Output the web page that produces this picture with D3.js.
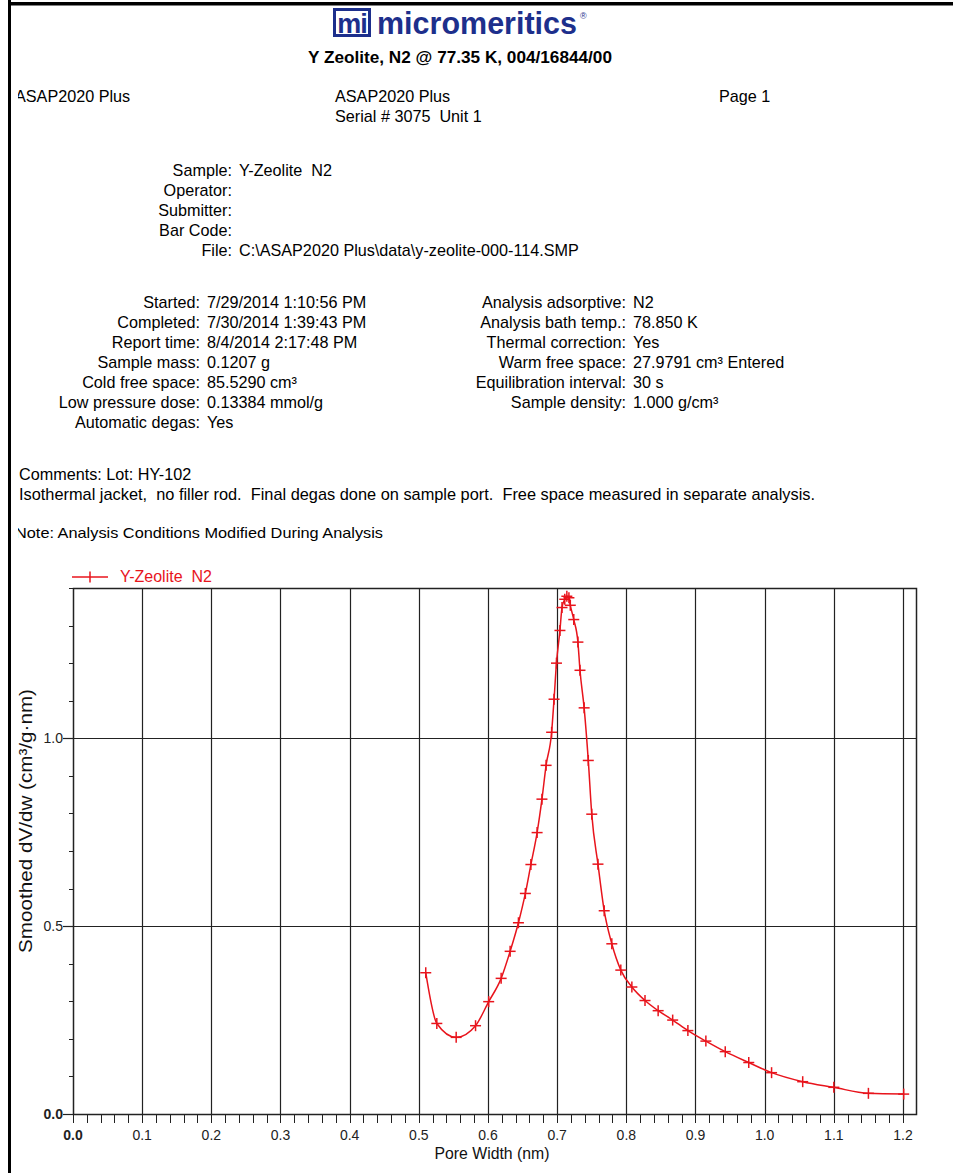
<!DOCTYPE html>
<html>
<head>
<meta charset="utf-8">
<script src="https://cdn.jsdelivr.net/npm/d3@7"></script>
<style>
  html, body { margin: 0; padding: 0; background: #fff; }
  svg { display: block; }
  text { font-family: "Liberation Sans", Arial, sans-serif; white-space: pre; }
</style>
</head>
<body>
<svg id="page" width="953" height="1173"></svg>
<script>
// ---------------- data ----------------
const poreWidth = [0.510,0.526,0.554,0.582,0.601,0.619,0.632,0.644,0.654,0.662,0.671,0.678,0.684,0.692,0.6955,0.699,0.704,0.707,0.711,0.714,0.717,0.719,0.724,0.730,0.733,0.739,0.745,0.750,0.759,0.768,0.779,0.792,0.808,0.827,0.846,0.867,0.889,0.915,0.943,0.977,1.010,1.055,1.100,1.150,1.201];
const dvdw = [0.376,0.241,0.204,0.235,0.299,0.361,0.433,0.509,0.587,0.664,0.749,0.838,0.928,1.016,1.104,1.200,1.287,1.348,1.370,1.378,1.374,1.354,1.316,1.256,1.181,1.081,0.941,0.798,0.665,0.541,0.453,0.383,0.338,0.302,0.275,0.250,0.222,0.194,0.166,0.137,0.110,0.086,0.071,0.055,0.053];
const xTickLabels = ["0.0","0.1","0.2","0.3","0.4","0.5","0.6","0.7","0.8","0.9","1.0","1.1","1.2"];
const yTickLabels = ["0.0","0.5","1.0"];
const seriesName = "Y-Zeolite  N2";
const headerLeft = ["ASAP2020 Plus"];
const headerMid = ["ASAP2020 Plus", "Serial # 3075  Unit 1"];
const headerRight = ["Page 1"];
const sampleLabels = ["Sample:", "Operator:", "Submitter:", "Bar Code:", "File:"];
const sampleValues = ["Y-Zeolite  N2", "", "", "", "C:\\ASAP2020 Plus\\data\\y-zeolite-000-114.SMP"];
const condLabelsL = ["Started:", "Completed:", "Report time:", "Sample mass:", "Cold free space:", "Low pressure dose:", "Automatic degas:"];
const condValuesL = ["7/29/2014 1:10:56 PM", "7/30/2014 1:39:43 PM", "8/4/2014 2:17:48 PM", "0.1207 g", "85.5290 cm³", "0.13384 mmol/g", "Yes"];
const condLabelsR = ["Analysis adsorptive:", "Analysis bath temp.:", "Thermal correction:", "Warm free space:", "Equilibration interval:", "Sample density:"];
const condValuesR = ["N2", "78.850 K", "Yes", "27.9791 cm³ Entered", "30 s", "1.000 g/cm³"];
const comments = ["Comments: Lot: HY-102", "Isothermal jacket,  no filler rod.  Final degas done on sample port.  Free space measured in separate analysis."];
const noteText = "Note: Analysis Conditions Modified During Analysis";
const titleText = "Y Zeolite, N2 @ 77.35 K, 004/16844/00";
const xTitle = "Pore Width (nm)";
const yTitle = "Smoothed dV/dw (cm³/g·nm)";

(function () {
// ---------------- page ----------------
const svg = d3.select("#page");
const red = "#e8141c";
const blue = "#1d2f8c";

// logo
const logo = svg.append("g");
logo.append("rect").attr("x", 334.5).attr("y", 9.5).attr("width", 35).attr("height", 26)
  .attr("fill", "#fff").attr("stroke", blue).attr("stroke-width", 3);
logo.append("text").attr("x", 352).attr("y", 33).attr("text-anchor", "middle")
  .attr("font-size", 27).attr("font-weight", "bold").attr("fill", blue).attr("letter-spacing", -1).text("mi");
logo.append("text").attr("x", 377).attr("y", 34).attr("font-size", 31).attr("font-weight", "bold")
  .attr("fill", blue).attr("textLength", 200).attr("lengthAdjust", "spacingAndGlyphs").text("micromeritics");
logo.append("text").attr("x", 580).attr("y", 19).attr("font-size", 9).attr("fill", blue).text("®");

svg.append("text").attr("x", 460).attr("y", 63).attr("text-anchor", "middle")
  .attr("font-size", 17).attr("font-weight", "bold").attr("fill", "#000")
  .attr("textLength", 304).attr("lengthAdjust", "spacingAndGlyphs").text(titleText);

const fs = 16.2;
function txt(x, y, s, anchor, opts) {
  const t = svg.append("text").attr("x", x).attr("y", y).attr("font-size", fs)
    .attr("fill", "#000").attr("text-anchor", anchor || "start").text(s);
  if (opts) Object.entries(opts).forEach(([k, v]) => t.attr(k, v));
  return t;
}

headerLeft.forEach((s, i) => txt(15, 102 + i * 19.5, s));
headerMid.forEach((s, i) => txt(335, 102 + i * 19.5, s));
headerRight.forEach((s, i) => txt(719, 102 + i * 19.5, s));

sampleLabels.forEach((s, i) => txt(232, 176 + i * 20, s, "end"));
sampleValues.forEach((s, i) => txt(239, 176 + i * 20, s));

condLabelsL.forEach((s, i) => txt(200, 308 + i * 20, s, "end"));
condValuesL.forEach((s, i) => txt(207, 308 + i * 20, s));
condLabelsR.forEach((s, i) => txt(626, 308 + i * 20, s, "end"));
condValuesR.forEach((s, i) => txt(633, 308 + i * 20, s));

txt(19, 480, comments[0]);
txt(19, 499.5, comments[1], "start", {"textLength": 796, "lengthAdjust": "spacingAndGlyphs"});
txt(15, 538, noteText, "start", {"textLength": 368, "lengthAdjust": "spacingAndGlyphs", "font-size": 15});

// cover text that runs under the page frame, then draw frame lines
svg.append("rect").attr("x", 0).attr("y", 0).attr("width", 18).attr("height", 1173).attr("fill", "#fff");
svg.append("rect").attr("x", 8).attr("y", 0).attr("width", 3).attr("height", 1173).attr("fill", "#000");
svg.append("rect").attr("x", 8).attr("y", 2).attr("width", 945).attr("height", 3.5).attr("fill", "#000");

// ---------------- chart ----------------
const pL = 73, pR = 916, pT = 588, pB = 1114;
const x = d3.scaleLinear().domain([0, 1.2188]).range([pL, pR]);
const y = d3.scaleLinear().domain([0, 1.4]).range([pB, pT]);
const gridColor = "#222";

const g = svg.append("g");
const xMajors = xTickLabels.map(Number);
g.selectAll(".vg").data(xMajors.filter(v => v > 0)).enter().append("line")
  .attr("x1", d => Math.round(x(d)) + 0.5).attr("x2", d => Math.round(x(d)) + 0.5)
  .attr("y1", pT).attr("y2", pB).attr("stroke", gridColor).attr("stroke-width", 1.2);
const yMajors = yTickLabels.map(Number);
g.selectAll(".hg").data(yMajors.filter(v => v > 0)).enter().append("line")
  .attr("x1", pL).attr("x2", pR)
  .attr("y1", d => Math.round(y(d)) + 0.5).attr("y2", d => Math.round(y(d)) + 0.5)
  .attr("stroke", gridColor).attr("stroke-width", 1.2);
g.append("rect").attr("x", pL + 0.5).attr("y", pT + 0.5).attr("width", pR - pL).attr("height", pB - pT)
  .attr("fill", "none").attr("stroke", gridColor).attr("stroke-width", 1.5);

const xAxis = d3.axisBottom(x).tickValues(d3.range(0, 1.2101, 0.02)).tickSize(8).tickFormat("");
const xa = svg.append("g").attr("transform", `translate(0,${pB + 0.5})`).call(xAxis);
xa.select(".domain").remove();
xa.selectAll("line").attr("stroke", gridColor).attr("shape-rendering", "crispEdges");
xTickLabels.forEach(s => {
  svg.append("text").attr("x", x(+s)).attr("y", 1140).attr("text-anchor", "middle")
    .attr("font-size", 14).attr("fill", "#222").attr("font-weight", s === "0.0" ? "bold" : "normal").text(s);
});
const yAxis = d3.axisLeft(y).tickValues(d3.range(0, 1.401, 0.1)).tickSize(5).tickFormat("");
const ya = svg.append("g").attr("transform", `translate(${pL + 0.5},0)`).call(yAxis);
ya.select(".domain").remove();
ya.selectAll("line").attr("stroke", gridColor).attr("shape-rendering", "crispEdges");
yMajors.forEach(v => {
  svg.append("line").attr("x1", pL - 10).attr("x2", pL).attr("y1", Math.round(y(v)) + 0.5).attr("y2", Math.round(y(v)) + 0.5)
    .attr("stroke", gridColor).attr("stroke-width", 1.2);
});
yTickLabels.forEach(s => {
  svg.append("text").attr("x", 63).attr("y", y(+s) + 5).attr("text-anchor", "end")
    .attr("font-size", 14).attr("fill", "#222").attr("font-weight", s === "0.0" ? "bold" : "normal").text(s);
});

svg.append("text").attr("x", 492).attr("y", 1159).attr("text-anchor", "middle").attr("font-size", 15.8)
  .attr("fill", "#111").text(xTitle);
svg.append("text").attr("transform", "translate(32,821) rotate(-90)").attr("text-anchor", "middle")
  .attr("font-size", 18.5).attr("fill", "#111")
  .attr("textLength", 264).attr("lengthAdjust", "spacingAndGlyphs").text(yTitle);

const pts = poreWidth.map((w, i) => [w, dvdw[i]]);
const line = d3.line().x(d => x(d[0])).y(d => y(d[1])).curve(d3.curveMonotoneX);
svg.append("path").attr("d", line(pts)).attr("fill", "none").attr("stroke", red).attr("stroke-width", 1.5);
const m = 5.5;
const mk = svg.append("g").attr("stroke", red).attr("stroke-width", 1.5);
pts.forEach(d => {
  const cx = x(d[0]), cy = y(d[1]);
  mk.append("line").attr("x1", cx - m).attr("x2", cx + m).attr("y1", cy).attr("y2", cy);
  mk.append("line").attr("x1", cx).attr("x2", cx).attr("y1", cy - m).attr("y2", cy + m);
});

svg.append("line").attr("x1", 72).attr("x2", 108).attr("y1", 577).attr("y2", 577).attr("stroke", red).attr("stroke-width", 1.5);
svg.append("line").attr("x1", 90).attr("x2", 90).attr("y1", 571.5).attr("y2", 582.5).attr("stroke", red).attr("stroke-width", 1.5);
svg.append("text").attr("x", 120).attr("y", 582).attr("font-size", 16).attr("fill", red).text(seriesName);
})();
</script>
</body>
</html>
